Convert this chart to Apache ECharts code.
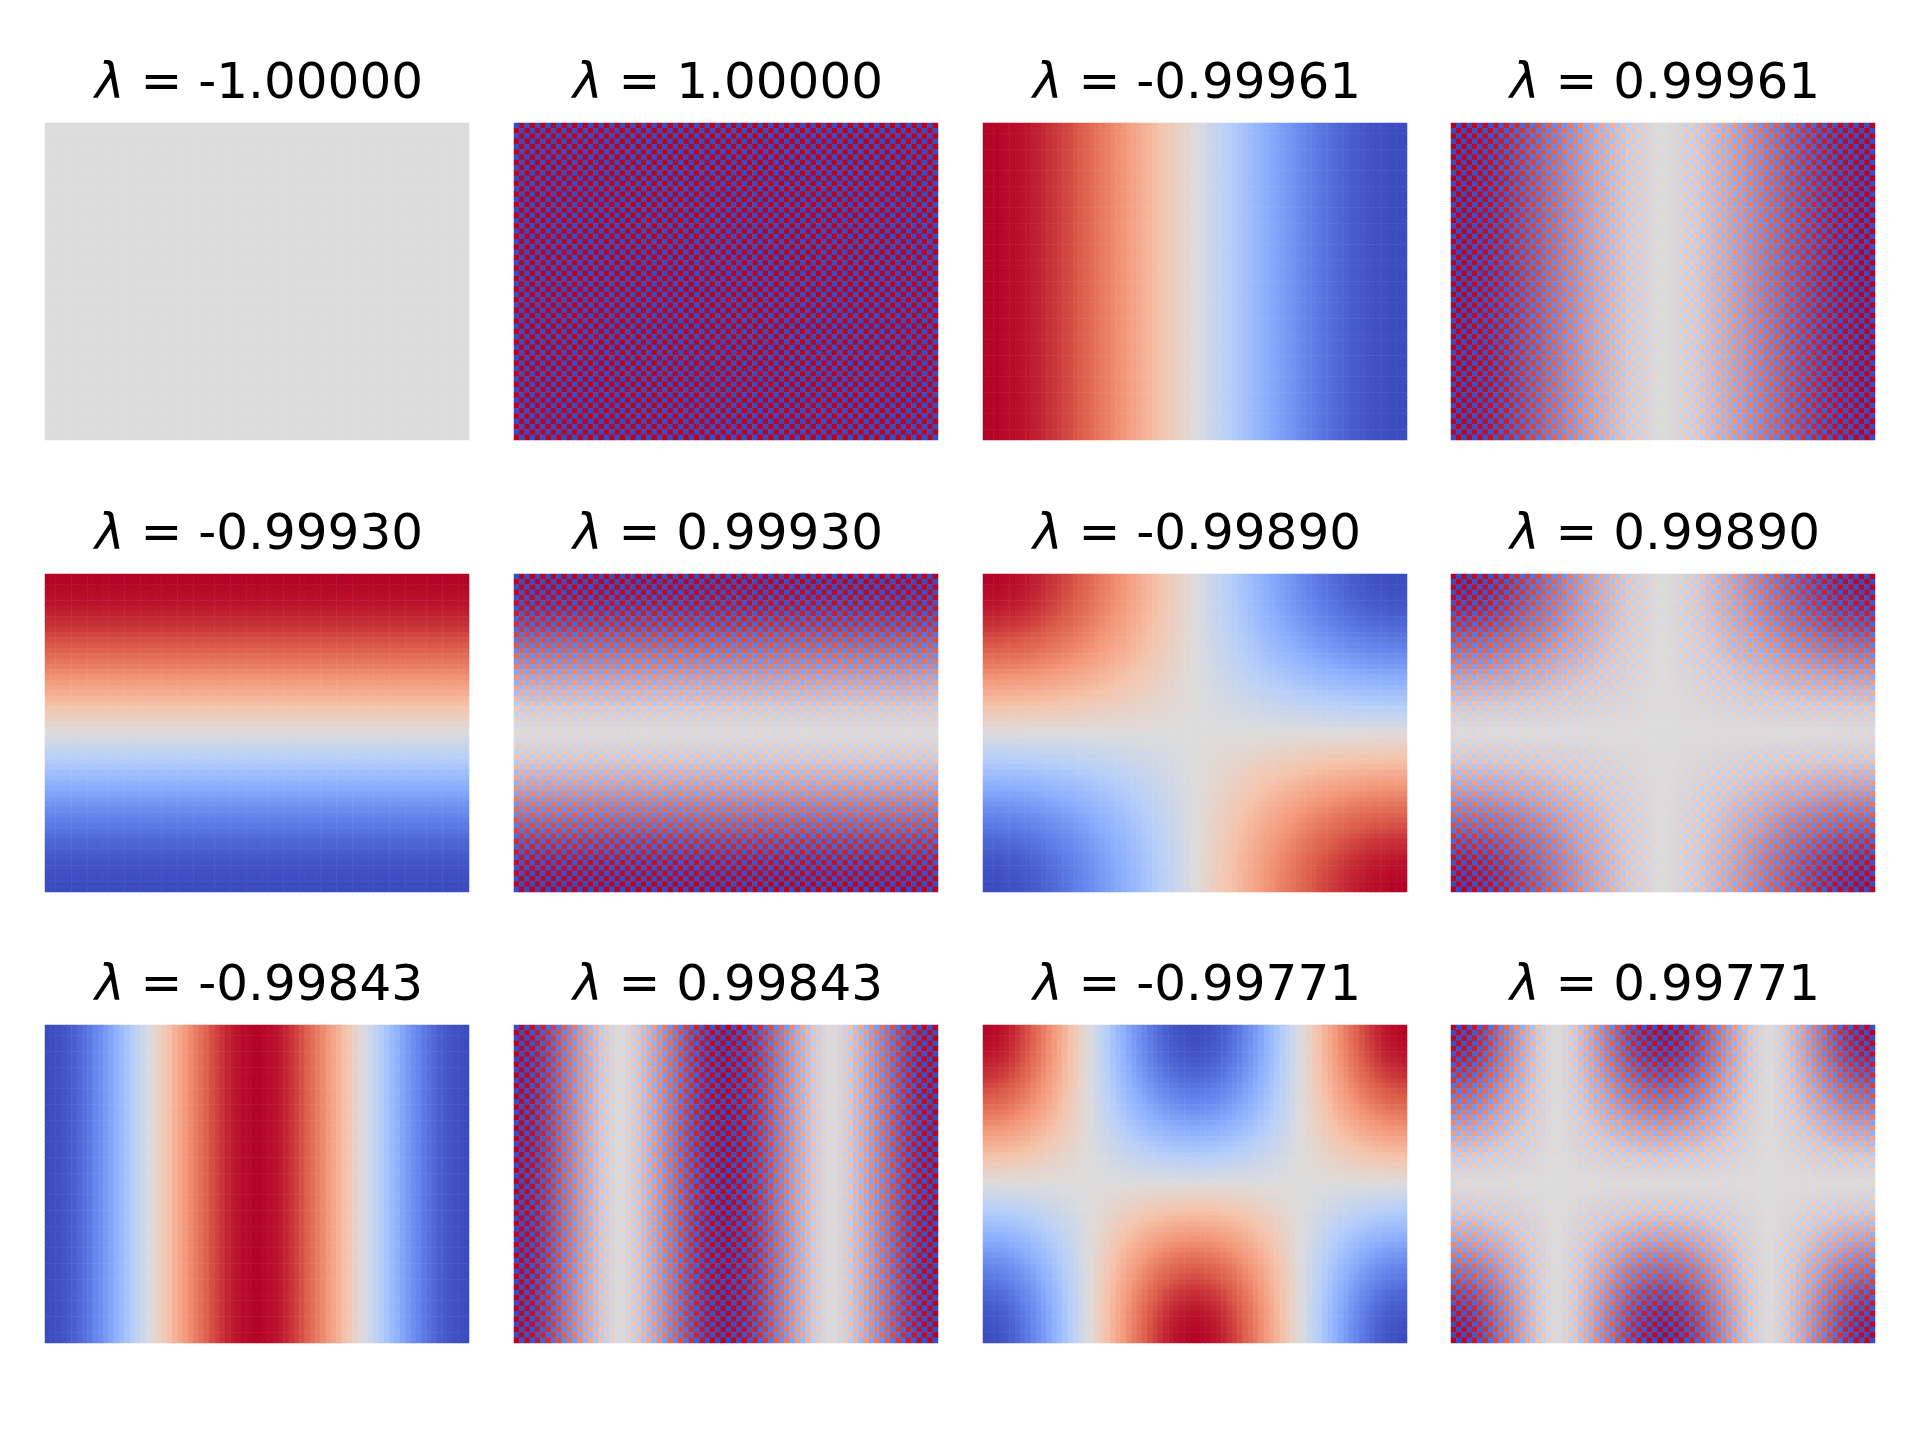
<!DOCTYPE html>
<html>
<head>
<meta charset="utf-8">
<title>Eigenvectors</title>
<style>
  html, body { margin: 0; padding: 0; background: #fff; }
  #chart { width: 1920px; height: 1440px; }
</style>
<script src="https://cdn.jsdelivr.net/npm/echarts@6/dist/echarts.min.js"></script>
</head>
<body>
<div id="chart"></div>
<script>
var panel_titles = ["-1.00000", "1.00000", "-0.99961", "0.99961",
                    "-0.99930", "0.99930", "-0.99890", "0.99890",
                    "-0.99843", "0.99843", "-0.99771", "0.99771"];

// values read across one row of the panels, 80 columns
var col_wave_one = [
    1.00, 1.00, 1.00, 0.99, 0.98, 0.98, 0.97, 0.96, 0.95, 0.93, 0.92, 0.90, 0.88, 0.86, 0.84, 0.82,
    0.80, 0.77, 0.75, 0.72, 0.69, 0.66, 0.63, 0.60, 0.57, 0.54, 0.51, 0.47, 0.44, 0.40, 0.36, 0.33,
    0.29, 0.25, 0.21, 0.18, 0.14, 0.10, 0.06, 0.02, -0.02, -0.06, -0.10, -0.14, -0.18, -0.21, -0.25, -0.29,
    -0.33, -0.36, -0.40, -0.44, -0.47, -0.51, -0.54, -0.57, -0.60, -0.63, -0.66, -0.69, -0.72, -0.75, -0.77, -0.80,
    -0.82, -0.84, -0.86, -0.88, -0.90, -0.92, -0.93, -0.95, -0.96, -0.97, -0.98, -0.98, -0.99, -1.00, -1.00, -1.00
];
var col_wave_two = [
    -1.00, -0.99, -0.98, -0.96, -0.94, -0.91, -0.87, -0.83, -0.79, -0.73, -0.68, -0.62, -0.56, -0.49, -0.42, -0.35,
    -0.27, -0.20, -0.12, -0.04, 0.04, 0.12, 0.20, 0.27, 0.35, 0.42, 0.49, 0.56, 0.62, 0.68, 0.73, 0.79,
    0.83, 0.87, 0.91, 0.94, 0.96, 0.98, 0.99, 1.00, 1.00, 0.99, 0.98, 0.96, 0.94, 0.91, 0.87, 0.83,
    0.79, 0.73, 0.68, 0.62, 0.56, 0.49, 0.42, 0.35, 0.27, 0.20, 0.12, 0.04, -0.04, -0.12, -0.20, -0.27,
    -0.35, -0.42, -0.49, -0.56, -0.62, -0.68, -0.73, -0.79, -0.83, -0.87, -0.91, -0.94, -0.96, -0.98, -0.99, -1.00
];
// values read down one column of the panels, 60 rows
var row_wave_one = [
    1.00, 1.00, 0.99, 0.98, 0.97, 0.96, 0.94, 0.92, 0.90, 0.88, 0.85, 0.82, 0.79, 0.76, 0.73,
    0.69, 0.65, 0.61, 0.57, 0.52, 0.48, 0.43, 0.38, 0.33, 0.28, 0.23, 0.18, 0.13, 0.08, 0.03,
    -0.03, -0.08, -0.13, -0.18, -0.23, -0.28, -0.33, -0.38, -0.43, -0.48, -0.52, -0.57, -0.61, -0.65, -0.69,
    -0.73, -0.76, -0.79, -0.82, -0.85, -0.88, -0.90, -0.92, -0.94, -0.96, -0.97, -0.98, -0.99, -1.00, -1.00
];

// which wave each panel uses, null means flat
var panel_col = [null, null, col_wave_one, col_wave_one,
                 null, null, col_wave_one, col_wave_one,
                 col_wave_two, col_wave_two, col_wave_two, col_wave_two];
var panel_row = [null, null, null, null,
                 row_wave_one, row_wave_one, row_wave_one, row_wave_one,
                 null, null, row_wave_one, row_wave_one];
// overall level of each panel
var panel_scale = [0, 1, 1, 1, 1, 1, 1, 1, 1, 1, -1, -1];
// sign of the checkerboard in the top left cell, 0 means no checkerboard
var panel_checker = [0, -1, 0, 1, 0, -1, 0, 1, 0, 1, 0, 1];

var COL_COUNT = 80;
var ROW_COUNT = 60;
var PANEL_LEFT = [45, 514, 983, 1451];
var PANEL_TOP = [123, 574, 1025];
var PANEL_WIDTH = 424;
var PANEL_HEIGHT = [317, 318, 318];

var coolwarm = ["#3b4cc0", "#6282ea", "#8db0fe", "#b7cff9", "#dddcdc", "#f5c4ac", "#f4987a", "#dc5d4a", "#b40426"];

var CHART = {
    init: function(){
        var _this = this;
        var option = {
            backgroundColor: "#fff",
            animation: false,
            title: [],
            grid: [],
            xAxis: [],
            yAxis: [],
            series: [],
            visualMap: {
                show: false,
                min: -1,
                max: 1,
                dimension: 2,
                seriesIndex: panel_titles.map(function(t, n){ return n; }),
                inRange: { color: coolwarm }
            }
        };
        var col_names = [], row_names = [];
        for (var c = 0; c < COL_COUNT; c++) col_names.push(c);
        for (var r = 0; r < ROW_COUNT; r++) row_names.push(r);

        panel_titles.forEach(function(text, n){
            var left = PANEL_LEFT[n % 4];
            var row = Math.floor(n / 4);
            var top = PANEL_TOP[row];
            option.title.push({
                text: "{l|λ} = " + text,
                left: left + PANEL_WIDTH / 2 + 2,
                top: top - 63,
                textAlign: "center",
                padding: 0,
                textStyle: {
                    fontFamily: "DejaVu Sans",
                    fontSize: 50,
                    fontWeight: "normal",
                    color: "#000",
                    rich: {
                        l: { fontFamily: "DejaVu Sans", fontSize: 50, fontStyle: "italic", color: "#000" }
                    }
                }
            });
            option.grid.push({ left: left, top: top, width: PANEL_WIDTH, height: PANEL_HEIGHT[row] });
            option.xAxis.push({ type: "category", gridIndex: n, data: col_names, show: false });
            option.yAxis.push({ type: "category", gridIndex: n, data: row_names, inverse: true, show: false });
            option.series.push({
                type: "heatmap",
                xAxisIndex: n,
                yAxisIndex: n,
                progressive: 0,
                silent: true,
                data: _this.cells(n)
            });
        });

        echarts.init(document.getElementById("chart"), null, { renderer: "canvas" }).setOption(option);
    },
    cells: function(n){
        var data = [];
        for (var r = 0; r < ROW_COUNT; r++) {
            for (var c = 0; c < COL_COUNT; c++) {
                var value = panel_scale[n];
                if (panel_col[n]) value *= panel_col[n][c];
                if (panel_row[n]) value *= panel_row[n][r];
                if (panel_checker[n]) value *= panel_checker[n] * ((r + c) % 2 ? -1 : 1);
                data.push([c, r, value]);
            }
        }
        return data;
    }
};

CHART.init();
</script>
</body>
</html>
